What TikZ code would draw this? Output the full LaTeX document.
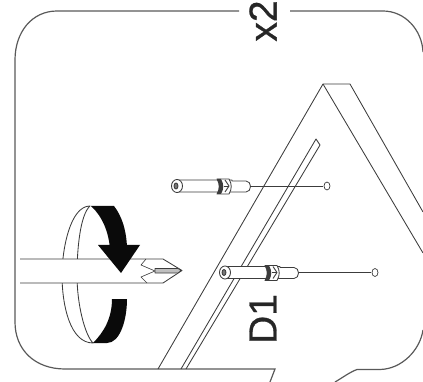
\documentclass[tikz,border=0pt]{standalone}
\usepackage{fontspec}
\setmainfont{Liberation Sans}
\newfontfamily\labelfont[FakeBold=0.7]{Liberation Sans}
\usepackage{xcolor}
\definecolor{inkline}{RGB}{60,60,60}
\definecolor{inkfill}{RGB}{10,10,10}
\tikzset{
  partline/.style={draw=inkline, line width=0.85pt, line join=round},
  frameline/.style={draw=inkline!85, line width=1.2pt},
  bigtext/.style={font=\labelfont\fontsize{39}{39}\selectfont, rotate=90, text=black!85, inner sep=0pt},
}
\begin{document}
\begin{tikzpicture}[x=1pt,y=-1pt]
\useasboundingbox (0,0) rectangle (423,382);
\clip (0,0) rectangle (423,382);

% ── Frame ─────────────────────────────────────────────────────────────────────
\draw[frameline] (239,11) -- (57,11) .. controls (32,11) and (15,32) .. (15,60)
      -- (15,322) .. controls (15,350) and (35,369) .. (65,369) -- (275,369) -- (270,382);
\draw[frameline] (290,11) -- (383,11) .. controls (405,11) and (422,30) .. (423,52);
\draw[frameline] (335,382) .. controls (342,378) and (350,372) .. (357,369.5)
      -- (380,369.5) .. controls (402,369) and (420,350) .. (423,330);

\node[bigtext] (xtwo) at (263,21) {x2};
\node[bigtext] (done) at (263,319) {D1};

% ── Triangle panel ────────────────────────────────────────────────────────────
\draw[partline] (158,369) -- (323,84) -- (350,84) -- (423,212);
\draw[partline] (323,84) -- (423,253);
% groove
\draw[partline] (181,369) -- (316,139) -- (320,145) -- (186,369);

% ── Screws ────────────────────────────────────────────────────────────────────
\foreach \sx/\sy in {0/0,48/86.5} {
  \begin{scope}[shift={(\sx,\sy)}]
    \draw[partline, line width=0.6pt] (250,186) -- (323,186);
    \draw[partline, line width=0.7pt] (327,186) ellipse (3 and 4);
    \draw[partline, fill=white] (177,180) -- (232,180) -- (232,181) -- (246,181)
         .. controls (252,181) and (252,192) .. (246,192) -- (232,192) -- (177,192) -- cycle;
    \draw[partline, fill=white] (177,186) ellipse (5.5 and 6.5);
    \draw[partline, fill=inkline!70] (176,186) ellipse (2 and 3);
    % collar
    \draw[partline, fill=white] (217,179) -- (229,179) .. controls (232,184) and (232,189) .. (229,194)
         -- (217,194) .. controls (220,189) and (220,184) .. (217,179) -- cycle;
    \fill[inkline] (217,179) -- (221,179) .. controls (224,184) and (224,189) .. (221,194)
         -- (217,194) .. controls (220,189) and (220,184) .. (217,179) -- cycle;
    \draw[partline, line width=0.9pt] (225,180) -- (229,186) -- (225,192);
    \draw[partline, line width=0.7pt] (224,186) -- (229,186);
  \end{scope}
}

% ── Rotation ring ─────────────────────────────────────────────────────────────
\draw[partline, fill=white] (90,206) .. controls (70,206) and (62,250) .. (62,275)
      .. controls (62,305) and (70,343) .. (93,343)
      .. controls (85,335) and (77,305) .. (77,275)
      .. controls (77,250) and (80,215) .. (90,206) -- cycle;
\fill[inkfill] (91,206) -- (114,206) .. controls (122,216) and (127,232) .. (127,250)
      -- (110,250) .. controls (109,232) and (102,216) .. (91,206) -- cycle;
\fill[inkfill] (112,299) -- (127,299) .. controls (127,320) and (120,343) .. (107,343)
      -- (93,343) .. controls (104,332) and (112,318) .. (112,299) -- cycle;

% ── Screwdriver ───────────────────────────────────────────────────────────────
\draw[draw=none, fill=white] (20,259) rectangle (163,283);
\draw[partline] (20,259) -- (163,259) -- (182,270.5) -- (163,283) -- (20,283);
\draw[partline, line width=0.6pt] (146,259) -- (141,265) -- (155,271) -- (141,277) -- (147,283);
\draw[partline, line width=0.6pt, fill=black!25] (155,268.5) -- (178,268.5) -- (181,270.5) -- (178,273) -- (155,273) -- cycle;

% arrow head in front of the shaft
\fill[inkfill] (98,245) -- (140,245) -- (121,273) -- cycle;

\end{tikzpicture}
\end{document}
